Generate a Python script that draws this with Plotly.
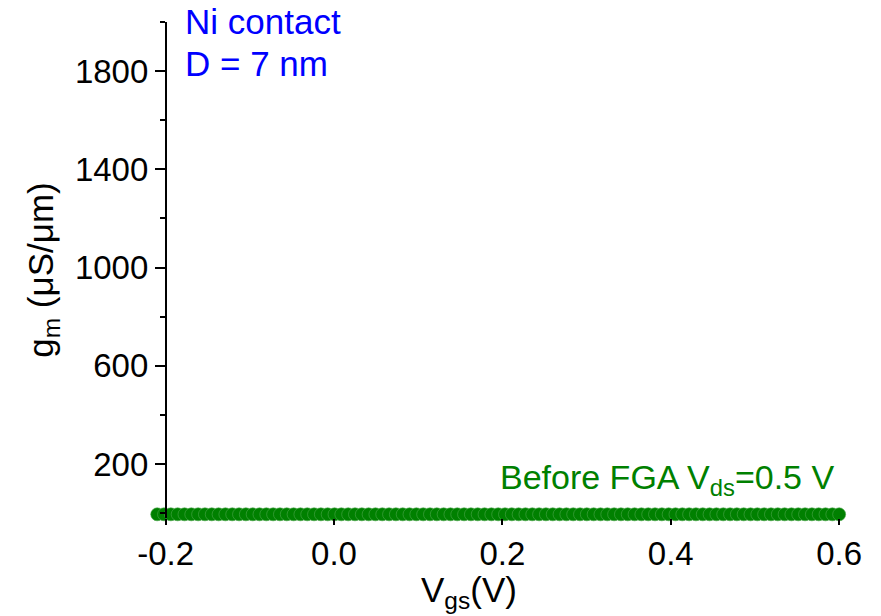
import plotly.graph_objects as go

vgs = [-0.2100, -0.2019, -0.1938, -0.1857, -0.1776, -0.1695, -0.1614, -0.1533, -0.1452, -0.1371,
       -0.1290, -0.1209, -0.1128, -0.1047, -0.0966, -0.0885, -0.0804, -0.0723, -0.0642, -0.0561,
       -0.0480, -0.0399, -0.0318, -0.0237, -0.0156, -0.0075, 0.0006, 0.0087, 0.0168, 0.0249,
       0.0330, 0.0411, 0.0492, 0.0573, 0.0654, 0.0735, 0.0816, 0.0897, 0.0978, 0.1059,
       0.1140, 0.1221, 0.1302, 0.1383, 0.1464, 0.1545, 0.1626, 0.1707, 0.1788, 0.1869,
       0.1950, 0.2031, 0.2112, 0.2193, 0.2274, 0.2355, 0.2436, 0.2517, 0.2598, 0.2679,
       0.2760, 0.2841, 0.2922, 0.3003, 0.3084, 0.3165, 0.3246, 0.3327, 0.3408, 0.3489,
       0.3570, 0.3651, 0.3732, 0.3813, 0.3894, 0.3975, 0.4056, 0.4137, 0.4218, 0.4299,
       0.4380, 0.4461, 0.4542, 0.4623, 0.4704, 0.4785, 0.4866, 0.4947, 0.5028, 0.5109,
       0.5190, 0.5271, 0.5352, 0.5433, 0.5514, 0.5595, 0.5676, 0.5757, 0.5838, 0.5919,
       0.6000]
gm = [-5, -5, -5, -5, -5, -5, -5, -5, -5, -5,
      -5, -5, -5, -5, -5, -5, -5, -5, -5, -5,
      -5, -5, -5, -5, -5, -5, -5, -5, -5, -5,
      -5, -5, -5, -5, -5, -5, -5, -5, -5, -5,
      -5, -5, -5, -5, -5, -5, -5, -5, -5, -5,
      -5, -5, -5, -5, -5, -5, -5, -5, -5, -5,
      -5, -5, -5, -5, -5, -5, -5, -5, -5, -5,
      -5, -5, -5, -5, -5, -5, -5, -5, -5, -5,
      -5, -5, -5, -5, -5, -5, -5, -5, -5, -5,
      -5, -5, -5, -5, -5, -5, -5, -5, -5, -5,
      -5]

x_ticks = [-0.2, 0.0, 0.2, 0.4, 0.6]
x_ticktext = ["-0.2", "0.0", "0.2", "0.4", "0.6"]
y_ticks = [200, 600, 1000, 1400, 1800]
y_minor = [0, 400, 800, 1200, 1600, 2000]

FONT = "Liberation Sans, Arial, sans-serif"
GREEN = "#008000"
BLUE = "#0000FF"

fig = go.Figure()
fig.add_trace(go.Scatter(
    x=vgs, y=gm, mode="markers",
    marker=dict(size=13, color=GREEN, line=dict(width=0.6, color="#4ca64c")),
    cliponaxis=False, showlegend=False,
))

fig.update_layout(
    width=881, height=616,
    margin=dict(l=153, r=25, t=22, b=98),
    plot_bgcolor="white", paper_bgcolor="white",
    font=dict(family=FONT, size=33, color="black"),
    xaxis=dict(
        range=[-0.215, 0.62], domain=[0, 1], showline=False,
        ticks="outside", ticklen=6, tickwidth=1.5, tickcolor="black",
        tickvals=x_ticks, ticktext=x_ticktext, showgrid=False, zeroline=False,
        tickfont=dict(size=33),
    ),
    yaxis=dict(
        range=[-20, 2000], showline=True, linecolor="black", linewidth=1.5,
        anchor="free", position=0.018,
        ticks="outside", ticklen=10, tickwidth=1.5, tickcolor="black",
        tickvals=y_ticks, showgrid=False, zeroline=False,
        tickfont=dict(size=33),
        minor=dict(tickvals=y_minor, ticklen=5, tickwidth=1.5, tickcolor="black", ticks="outside", showgrid=False),
        title=dict(text="g<sub>m</sub> (\u03bcS/\u03bcm)", font=dict(size=35), standoff=10),
    ),
    annotations=[
        dict(text="Ni contact", xref="paper", yref="paper", x=0.043, y=1.045,
             xanchor="left", yanchor="top", showarrow=False,
             font=dict(size=35, color=BLUE)),
        dict(text="D = 7 nm", xref="paper", yref="paper", x=0.043, y=0.96,
             xanchor="left", yanchor="top", showarrow=False,
             font=dict(size=35, color=BLUE)),
        dict(text="Before FGA V<sub>ds</sub>=0.5 V", xref="paper", yref="paper", x=0.972, y=0.125,
             xanchor="right", yanchor="top", showarrow=False,
             font=dict(size=34, color=GREEN)),
        dict(text="V<sub>gs</sub>(V)", xref="paper", yref="paper", x=0.45, y=-0.1,
             xanchor="center", yanchor="top", showarrow=False,
             font=dict(size=35, color="black")),
        dict(text="200", xref="paper", yref="paper", x=-0.04, y=-0.19,
             xanchor="center", yanchor="top", showarrow=False,
             font=dict(size=33, color="black")),
    ],
)

fig.write_html("out.html")
